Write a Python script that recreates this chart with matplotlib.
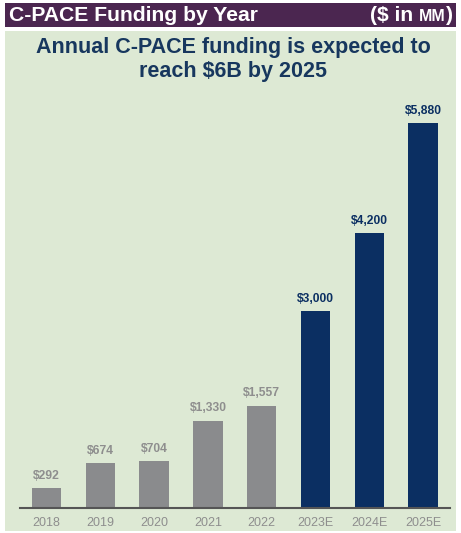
import matplotlib
matplotlib.use("Agg")
import matplotlib.pyplot as plt
from matplotlib.patches import Rectangle

categories = ["2018", "2019", "2020", "2021", "2022", "2023E", "2024E", "2025E"]
values = [292, 674, 704, 1330, 1557, 3000, 4200, 5880]
labels = ["$292", "$674", "$704", "$1,330", "$1,557", "$3,000", "$4,200", "$5,880"]
estimate = [False, False, False, False, False, True, True, True]

header_text = "C-PACE Funding by Year"
title_lines = ["Annual C-PACE funding is expected to", "reach $6B by 2025"]

W, H = 461, 533
plt.rcParams['font.family'] = ['Liberation Sans', 'DejaVu Sans']
fig = plt.figure(figsize=(W / 100, H / 100), dpi=100)
fig.patch.set_facecolor("white")

PURPLE = "#4b2650"
GREEN = "#dde9d4"
GRAY = "#8a8b8d"
NAVY = "#0b2f62"
TITLE = "#17375e"
TICK = "#8e8e8e"

def fx(px):
    return px / W

def fy(py):
    return 1 - py / H

# header bar
fig.patches.append(Rectangle((fx(5), fy(27)), fx(451), 24 / H, transform=fig.transFigure,
                             facecolor=PURPLE, edgecolor="none", zorder=-2))
# green panel
fig.patches.append(Rectangle((fx(5), fy(531)), fx(451), 500 / H, transform=fig.transFigure,
                             facecolor=GREEN, edgecolor="none", zorder=-2))

fig.text(fx(9), fy(15.5), header_text, color="white", fontsize=15.2, fontweight="bold",
         ha="left", va="center")
# right header "($ in MM)" with small caps MM
t_close = fig.text(fx(453), fy(15.5), ")", color="white", fontsize=15.2, fontweight="bold",
                   ha="right", va="center")
fig.canvas.draw()
r = fig.canvas.get_renderer()
bb = t_close.get_window_extent(r)
t_mm = fig.text(bb.x0 / W, fy(16.5), "MM", color="white", fontsize=11.5, fontweight="bold",
                ha="right", va="center")
bb2 = t_mm.get_window_extent(r)
fig.text(bb2.x0 / W, fy(15.5), "($ in ", color="white", fontsize=15.2, fontweight="bold",
         ha="right", va="center")

fig.text(fx(233), fy(47), title_lines[0], color=TITLE, fontsize=15.5, fontweight="bold",
         ha="center", va="center")
fig.text(fx(233), fy(72), title_lines[1], color=TITLE, fontsize=15.5, fontweight="bold",
         ha="center", va="center")

# axes
ax_left, ax_right = 20, 450
ax_top, ax_bottom = 95, 507.5
ax = fig.add_axes([fx(ax_left), fy(ax_bottom), (ax_right - ax_left) / W, (ax_bottom - ax_top) / H])
ax.set_facecolor("none")
ax.set_zorder(2)
px_per_unit = (507.5 - 123) / 5880
ax.set_ylim(0, (ax_bottom - ax_top) / px_per_unit)
spacing = 53.8
c0 = 46.5
ax.set_xlim((ax_left - c0) / spacing, (ax_right - c0) / spacing)

x = list(range(len(categories)))
colors = [NAVY if e else GRAY for e in estimate]
bars = ax.bar(x, values, width=0.55, color=colors, edgecolor="none", zorder=2)
for xi, v, lab, e in zip(x, values, labels, estimate):
    ax.annotate(lab, (xi, v), xytext=(0, 4.5), textcoords="offset points", ha="center",
                va="bottom", fontsize=8.7, fontweight="bold", color=NAVY if e else TICK)

for s in ["top", "right", "left"]:
    ax.spines[s].set_visible(False)
ax.spines["bottom"].set_color("#555555")
ax.spines["bottom"].set_linewidth(1.5)
ax.set_yticks([])
ax.set_xticks(x)
ax.set_xticklabels(categories, fontsize=9, color=TICK)
ax.tick_params(axis="x", length=0, pad=6.5)

fig.savefig("out.png", dpi=100, facecolor="white")
